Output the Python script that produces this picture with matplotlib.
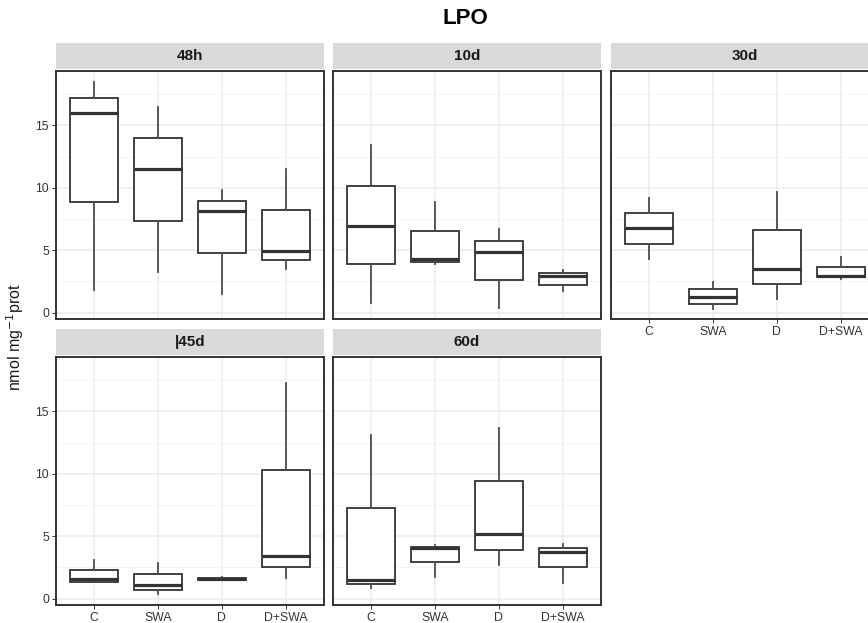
import matplotlib
matplotlib.use("Agg")
import matplotlib.pyplot as plt
from matplotlib.ticker import MultipleLocator

plt.rcParams['font.family'] = ['Liberation Sans', 'DejaVu Sans']

categories = ["C", "SWA", "D", "D+SWA"]
panels = ["48h", "10d", "30d", "|45d", "60d"]

# per panel, per category: [whislo, q1, median, q3, whishi]
stats_48h = [[1.8, 8.86, 15.99, 17.21, 18.45],
             [3.23, 7.34, 11.48, 13.96, 16.47],
             [1.52, 4.80, 8.11, 8.97, 9.85],
             [3.50, 4.24, 4.94, 8.19, 11.50]]
stats_10d = [[0.80, 3.90, 6.97, 10.14, 13.40],
             [3.87, 4.08, 4.30, 6.57, 8.86],
             [0.37, 2.59, 4.88, 5.76, 6.67],
             [1.71, 2.24, 2.91, 3.15, 3.44]]
stats_30d = [[4.27, 5.52, 6.78, 7.95, 9.15],
             [0.29, 0.72, 1.23, 1.87, 2.48],
             [1.12, 2.32, 3.52, 6.62, 9.69],
             [2.70, 2.86, 2.96, 3.68, 4.48]]
stats_45d = [[1.30, 1.37, 1.56, 2.28, 3.09],
             [0.40, 0.73, 1.10, 1.96, 2.82],
             [1.50, 1.52, 1.60, 1.66, 1.70],
             [1.64, 2.50, 3.44, 10.30, 17.23]]
stats_60d = [[0.89, 1.16, 1.48, 7.26, 13.12],
             [1.77, 2.93, 4.03, 4.14, 4.30],
             [2.66, 3.90, 5.19, 9.38, 13.63],
             [1.24, 2.50, 3.76, 4.06, 4.41]]
panel_stats = [stats_48h, stats_10d, stats_30d, stats_45d, stats_60d]

W, H = 868, 623
fig = plt.figure(figsize=(W / 100, H / 100), dpi=100)

col_x = [56, 333, 611]
pw = 268
row_top = [71, 357]
ph = 248

grid_pos = [(0, 0), (0, 1), (0, 2), (1, 0), (1, 1)]
has_xlabels = [False, False, True, True, True]

ylim = (-0.51, 19.35)
for i, (r, c) in enumerate(grid_pos):
    x0 = col_x[c]
    y0 = row_top[r]
    ax = fig.add_axes([x0 / W, 1 - (y0 + ph) / H, pw / W, ph / H])
    st = panel_stats[i]
    bxs = []
    for j, cat in enumerate(categories):
        lo, q1, med, q3, hi = st[j]
        bxs.append(dict(whislo=lo, q1=q1, med=med, q3=q3, whishi=hi, fliers=[], label=cat))
    ax.bxp(bxs, positions=range(1, 5), widths=0.75, showfliers=False, showcaps=False,
           patch_artist=True,
           boxprops=dict(facecolor='white', edgecolor='#333333', linewidth=1.3),
           medianprops=dict(color='#333333', linewidth=2.3),
           whiskerprops=dict(color='#4D4D4D', linewidth=1.3))
    ax.set_xlim(0.4, 4.6)
    ax.set_ylim(*ylim)
    ax.yaxis.set_major_locator(MultipleLocator(5))
    ax.yaxis.set_minor_locator(MultipleLocator(2.5))
    ax.set_axisbelow(True)
    ax.grid(True, which='major', color='#EBEBEB', linewidth=1.1)
    ax.grid(True, which='minor', axis='y', color='#F4F4F4', linewidth=0.7)
    ax.tick_params(which='minor', length=0)
    for sp in ax.spines.values():
        sp.set_color('#333333')
        sp.set_linewidth(1.4)
    ax.tick_params(axis='both', which='major', length=3, width=0.7, color='#333333',
                   labelsize=8.8, labelcolor='#333333', pad=2)
    ax.set_xticks(range(1, 5))
    if has_xlabels[i]:
        ax.set_xticklabels(categories)
    else:
        ax.tick_params(axis='x', length=0, labelbottom=False)
    if c != 0:
        ax.tick_params(axis='y', length=0, labelleft=False)
    # strip
    s_top = y0 - 28
    s_h = 26
    sax = fig.add_axes([x0 / W, 1 - (s_top + s_h) / H, pw / W, s_h / H])
    sax.set_xticks([]); sax.set_yticks([])
    sax.set_facecolor('#D9D9D9')
    for sp in sax.spines.values():
        sp.set_visible(False)
    sax.text(0.5, 0.5, panels[i], ha='center', va='center', fontsize=11,
             fontweight='bold', color='#1A1A1A', transform=sax.transAxes)

fig.text(465 / W, 1 - 19 / H, "LPO", ha='center', va='center', fontsize=16, fontweight='bold')
fig.text(15 / W, 1 - 337 / H, r"nmol mg$^{-1}$prot", ha='center', va='center', rotation=90,
         fontsize=11.5, color='#1A1A1A')

fig.savefig("out.png", dpi=100)
